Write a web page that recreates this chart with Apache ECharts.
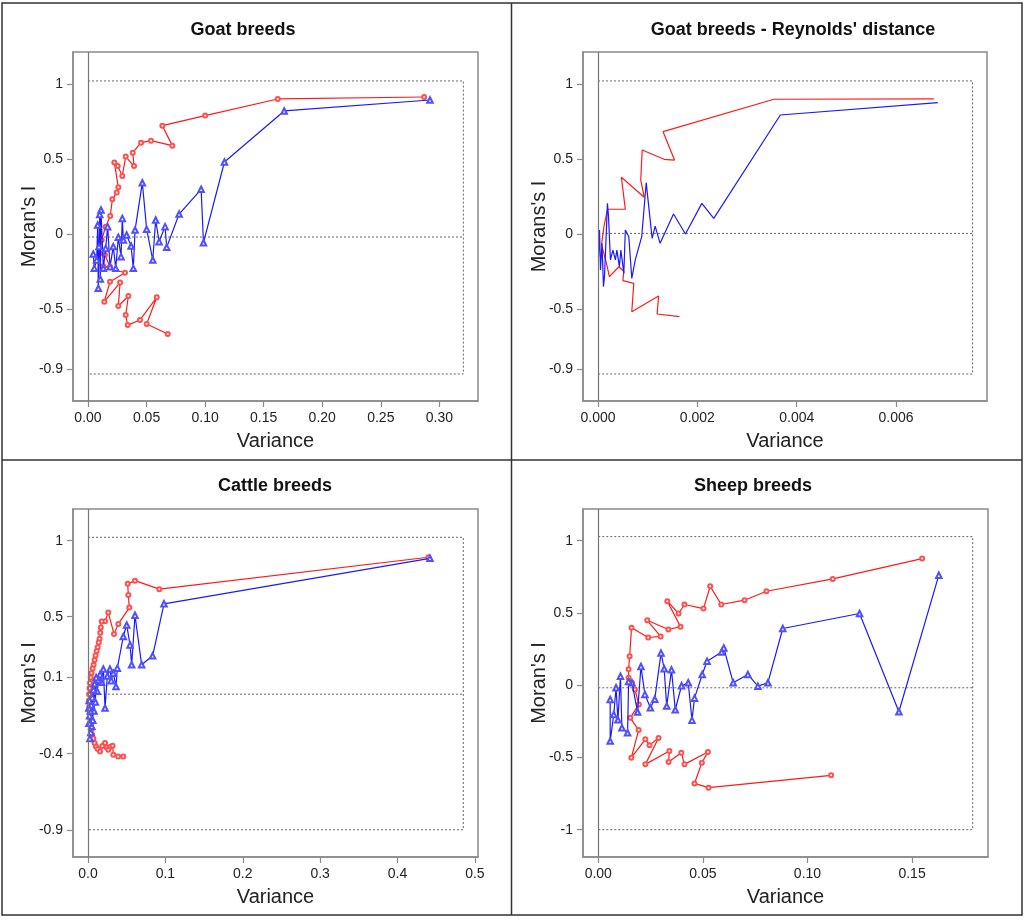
<!DOCTYPE html>
<html lang="en">
<head>
<meta charset="UTF-8">
<title>Moran's I correlograms</title>
<style>
  html, body { margin: 0; padding: 0; background: #fff; }
  #main { width: 1024px; height: 920px; }
</style>
</head>
<body>
<div id="main"></div>
<script src="https://cdn.jsdelivr.net/npm/echarts@6.0.0/dist/echarts.min.js"></script>
<script>
// ---- data: [variance, Moran's I] in path order ----
const goatRed = [
  [0.287, 0.913], [0.162, 0.900], [0.100, 0.789], [0.0635, 0.722], [0.072, 0.589],
  [0.0538, 0.622], [0.0453, 0.609], [0.0382, 0.542], [0.0393, 0.453], [0.0322, 0.516],
  [0.0293, 0.387], [0.0254, 0.453], [0.0225, 0.476], [0.0259, 0.311], [0.0245, 0.276],
  [0.0208, 0.231], [0.0190, 0.120], [0.0151, 0.049], [0.0117, -0.040], [0.0103, -0.129],
  [0.0145, -0.140], [0.0188, -0.218], [0.0130, -0.215], [0.0316, -0.258], [0.0188, -0.318],
  [0.0139, -0.451], [0.0274, -0.324], [0.0259, -0.480], [0.0345, -0.413], [0.0322, -0.540],
  [0.0339, -0.607], [0.0444, -0.573], [0.0587, -0.422], [0.0501, -0.600], [0.0681, -0.667]
];
const goatBlue = [
  [0.292, 0.893], [0.1675, 0.820], [0.1165, 0.480], [0.0986, -0.058], [0.0966, 0.298],
  [0.0778, 0.133], [0.0672, -0.089], [0.0658, 0.049], [0.0607, -0.051], [0.0578, 0.093],
  [0.0553, -0.173], [0.0501, 0.031], [0.0464, 0.342], [0.0402, 0.027], [0.0387, -0.229],
  [0.0368, -0.080], [0.0330, -0.007], [0.0302, -0.040], [0.0293, 0.104], [0.0282, -0.151],
  [0.0259, -0.022], [0.0237, -0.229], [0.0216, -0.084], [0.0188, -0.218], [0.0168, 0.049],
  [0.0151, -0.096], [0.0131, -0.229], [0.0111, 0.160], [0.0105, -0.300], [0.0100, 0.130],
  [0.0094, -0.084], [0.0088, -0.362], [0.0083, 0.060], [0.0074, -0.173], [0.0054, -0.229],
  [0.0045, -0.133]
];
const reynRed = [
  [0.00676, 0.900], [0.00354, 0.898], [0.00131, 0.682], [0.00154, 0.493], [0.00133, 0.498],
  [0.00089, 0.560], [0.00086, 0.360], [0.00093, 0.245], [0.00047, 0.378], [0.00055, 0.165],
  [0.00019, 0.165], [0.00012, 0.050], [0.00007, -0.069], [0.00017, -0.196], [0.00023, -0.284],
  [0.00042, -0.218], [0.00052, -0.250], [0.00050, -0.311], [0.00072, -0.329], [0.00068, -0.518],
  [0.00122, -0.413], [0.00119, -0.533], [0.00164, -0.551]
];
const reynBlue = [
  [0.00684, 0.876], [0.00367, 0.793], [0.00233, 0.104], [0.00209, 0.204], [0.00176, 0.000],
  [0.00152, 0.133], [0.00125, -0.062], [0.00115, 0.053], [0.00109, -0.029], [0.00097, 0.342],
  [0.00088, -0.018], [0.00075, -0.173], [0.00068, -0.296], [0.00062, -0.018], [0.00055, 0.027],
  [0.00052, -0.262], [0.00046, -0.107], [0.00043, -0.218], [0.00038, -0.107], [0.00035, -0.173],
  [0.00030, -0.107], [0.00025, -0.173], [0.00021, 0.127], [0.00019, 0.204], [0.00015, -0.129],
  [0.00013, -0.284], [0.00011, -0.351], [0.00008, -0.062], [0.00005, -0.240], [0.00003, 0.027],
  [0.00001, -0.151]
];
const cattleRed = [
  [0.440, 0.891], [0.0921, 0.681], [0.0607, 0.737], [0.0513, 0.716], [0.0521, 0.643],
  [0.0534, 0.560], [0.0392, 0.453], [0.0336, 0.387], [0.0262, 0.527], [0.0220, 0.470],
  [0.0177, 0.468], [0.0165, 0.430], [0.0158, 0.395], [0.0150, 0.355], [0.0138, 0.330],
  [0.0125, 0.300], [0.0112, 0.275], [0.0098, 0.245], [0.0085, 0.215], [0.0072, 0.185],
  [0.0060, 0.160], [0.0046, 0.130], [0.0035, 0.100], [0.0026, 0.065], [0.0019, 0.030],
  [0.0014, -0.010], [0.0013, -0.050], [0.0016, -0.090], [0.0022, -0.130], [0.0030, -0.170],
  [0.0040, -0.205], [0.0048, -0.240], [0.0055, -0.275], [0.0068, -0.300], [0.0085, -0.330],
  [0.0103, -0.353], [0.0125, -0.370], [0.0155, -0.385], [0.0185, -0.350], [0.0220, -0.330],
  [0.0240, -0.360], [0.0262, -0.374], [0.0290, -0.355], [0.0318, -0.348], [0.0327, -0.407],
  [0.0390, -0.418], [0.0456, -0.418]
];
const cattleBlue = [
  [0.4419, 0.884], [0.0982, 0.585], [0.0835, 0.243], [0.0693, 0.184], [0.0607, 0.510],
  [0.0564, 0.184], [0.0543, 0.315], [0.0500, 0.446], [0.0456, 0.370], [0.0379, 0.162],
  [0.0362, 0.041], [0.0327, 0.129], [0.0300, 0.080], [0.0284, 0.156], [0.0250, 0.110],
  [0.0220, -0.100], [0.0198, 0.156], [0.0175, 0.070], [0.0155, 0.120], [0.0133, 0.085],
  [0.0118, 0.010], [0.0105, 0.100], [0.0095, -0.060], [0.0085, 0.060], [0.0078, -0.120],
  [0.0070, 0.020], [0.0062, -0.180], [0.0055, -0.030], [0.0048, -0.220], [0.0042, -0.080],
  [0.0036, -0.260], [0.0030, -0.120], [0.0025, -0.300], [0.0020, -0.150], [0.0015, -0.050],
  [0.0012, -0.200], [0.0010, -0.100]
];
const sheepRed = [
  [0.1548, 0.876], [0.1121, 0.735], [0.0804, 0.650], [0.0699, 0.588], [0.0588, 0.558],
  [0.0535, 0.684], [0.0503, 0.530], [0.0412, 0.558], [0.0384, 0.496], [0.0330, 0.581],
  [0.0393, 0.405], [0.0335, 0.385], [0.0234, 0.449], [0.0298, 0.337], [0.0239, 0.330],
  [0.0159, 0.397], [0.0150, 0.200], [0.0145, 0.110], [0.0145, 0.051], [0.0161, 0.017],
  [0.0175, -0.030], [0.0194, -0.133], [0.0153, -0.226], [0.0193, -0.311], [0.0158, -0.502],
  [0.0225, -0.375], [0.0245, -0.415], [0.0288, -0.365], [0.0225, -0.548], [0.0340, -0.456],
  [0.0336, -0.532], [0.0397, -0.467], [0.0412, -0.548], [0.0524, -0.463], [0.0495, -0.537],
  [0.0460, -0.680], [0.0527, -0.709], [0.1113, -0.624]
];
const sheepBlue = [
  [0.1628, 0.761], [0.1437, -0.184], [0.1249, 0.496], [0.0882, 0.392], [0.0811, 0.017],
  [0.0763, -0.007], [0.0715, 0.074], [0.0645, 0.017], [0.0600, 0.258], [0.0590, 0.230],
  [0.0520, 0.166], [0.0497, 0.074], [0.0460, -0.090], [0.0448, -0.242], [0.0430, 0.017],
  [0.0398, -0.004], [0.0368, -0.170], [0.0350, 0.106], [0.0327, -0.145], [0.0315, 0.114],
  [0.0300, 0.222], [0.0270, -0.097], [0.0249, -0.156], [0.0223, -0.064], [0.0204, 0.129],
  [0.0188, -0.186], [0.0161, 0.017], [0.0145, 0.025], [0.0140, -0.329], [0.0113, -0.295],
  [0.0106, 0.062], [0.0094, -0.240], [0.0085, -0.018], [0.0074, -0.203], [0.0057, -0.387],
  [0.0057, -0.099]
];

// dotted reference frame: [top, middle, bottom, right edge]
const goatRef = [1.02, -0.02, -0.933, 0.3205];
const reynRef = [1.02, 0.004, -0.933, 0.00754];
const cattleRef = [1.022, -0.009, -0.9, 0.485];
const sheepRef = [1.028, -0.018, -1.0, 0.179];

// tick labels
const goatXTicks = [0, 0.05, 0.10, 0.15, 0.20, 0.25, 0.30];
const reynXTicks = [0, 0.002, 0.004, 0.006];
const cattleXTicks = [0, 0.1, 0.2, 0.3, 0.4, 0.5];
const sheepXTicks = [0, 0.05, 0.10, 0.15];
const goatYTicks = [1, 0.5, 0, -0.5, -0.9];
const cattleYTicks = [1, 0.5, 0.1, -0.4, -0.9];
const sheepYTicks = [1, 0.5, 0, -0.5, -1];

const titles = ['Goat breeds', "Goat breeds - Reynolds' distance", 'Cattle breeds', 'Sheep breeds'];
const yNames = ["Moran's I", "Morans's I", "Moran's I", "Moran's I"];

const FONT = '"Liberation Sans", Arial, sans-serif';
const GREY = '#8a8a8a';

const panels = [
  { red: goatRed, blue: goatBlue, ref: goatRef, xt: goatXTicks, yt: goatYTicks, dig: 2,
    x: [-0.0128, 0.333], y: [-1.113, 1.213], marks: true,
    grid: { left: 73, top: 52, width: 405, height: 349 }, tx: 243, ty: 21 },
  { red: reynRed, blue: reynBlue, ref: reynRef, xt: reynXTicks, yt: goatYTicks, dig: 3,
    x: [-0.000302, 0.00783], y: [-1.113, 1.213], marks: false,
    grid: { left: 583, top: 52, width: 404, height: 349 }, tx: 793, ty: 21 },
  { red: cattleRed, blue: cattleBlue, ref: cattleRef, xt: cattleXTicks, yt: cattleYTicks, dig: 1,
    x: [-0.0194, 0.504], y: [-1.079, 1.208], marks: true,
    grid: { left: 73, top: 509, width: 405, height: 348 }, tx: 275, ty: 477 },
  { red: sheepRed, blue: sheepBlue, ref: sheepRef, xt: sheepXTicks, yt: sheepYTicks, dig: 2,
    x: [-0.0073, 0.1863], y: [-1.189, 1.219], marks: true,
    grid: { left: 583, top: 509, width: 405, height: 348 }, tx: 753, ty: 477 }
];

const chart = echarts.init(document.getElementById('main'));

const grid = [], xAxis = [], yAxis = [], series = [], title = [];

panels.forEach((p, i) => {
  grid.push(Object.assign({ show: true, borderColor: GREY, borderWidth: 1.5, backgroundColor: '#fff' }, p.grid));

  title.push({
    text: titles[i], left: p.tx, top: p.ty, textAlign: 'center', padding: 0,
    textStyle: { fontFamily: FONT, fontSize: 18, fontWeight: 'bold', color: '#111' }
  });

  xAxis.push({
    type: 'value', gridIndex: i, min: p.x[0], max: p.x[1],
    name: 'Variance', nameLocation: 'middle', nameGap: 30, nameMoveOverlap: false,
    nameTextStyle: { fontFamily: FONT, fontSize: 20, color: '#222' },
    axisLine: { show: true, onZero: false, lineStyle: { color: GREY, width: 1.5 } },
    axisTick: { show: true, customValues: p.xt, length: 6, lineStyle: { color: GREY, width: 1.2 } },
    axisLabel: {
      customValues: p.xt, margin: 10, fontFamily: FONT, fontSize: 14, color: '#222',
      formatter: v => v.toFixed(p.dig)
    },
    splitLine: { show: false }
  });

  yAxis.push({
    type: 'value', gridIndex: i, min: p.y[0], max: p.y[1],
    name: yNames[i], nameLocation: 'middle', nameGap: 34, nameRotate: 90, nameMoveOverlap: false,
    nameTextStyle: { fontFamily: FONT, fontSize: 20, color: '#222' },
    axisLine: { show: true, onZero: false, lineStyle: { color: GREY, width: 1.5 } },
    axisTick: { show: true, customValues: p.yt, length: 6, lineStyle: { color: GREY, width: 1.2 } },
    axisLabel: {
      customValues: p.yt, margin: 10, fontFamily: FONT, fontSize: 14, color: '#222',
      formatter: v => String(v)
    },
    splitLine: { show: false }
  });

  const [top, mid, bottom, right] = p.ref;
  // dotted envelope frame, plus the solid vertical line at zero variance
  series.push({
    type: 'line', xAxisIndex: i, yAxisIndex: i, silent: true, symbol: 'none',
    data: [[0, top], [right, top], [right, bottom], [0, bottom]],
    lineStyle: { color: '#666', width: 1, type: [2, 2] },
    markLine: {
      silent: true, symbol: 'none', label: { show: false },
      lineStyle: { color: '#777', width: 1.2, type: 'solid' },
      data: [{ xAxis: 0 }]
    },
    z: 1
  });
  series.push({
    type: 'line', xAxisIndex: i, yAxisIndex: i, silent: true, symbol: 'none',
    data: [[0, mid], [right, mid]],
    lineStyle: { color: '#666', width: 1, type: [2, 2] }, z: 1
  });

  series.push({
    type: 'line', xAxisIndex: i, yAxisIndex: i, data: p.red,
    showSymbol: p.marks, symbol: 'emptyCircle', symbolSize: 4,
    lineStyle: { color: '#ff1a1a', width: 1.2 },
    itemStyle: { color: '#ff5050', borderColor: '#ff5050', borderWidth: 0.8 },
    z: 3
  });
  series.push({
    type: 'line', xAxisIndex: i, yAxisIndex: i, data: p.blue,
    showSymbol: p.marks, symbol: 'emptyTriangle', symbolSize: 5.5,
    lineStyle: { color: '#1a1aff', width: 1.2 },
    itemStyle: { color: '#5050ff', borderColor: '#5050ff', borderWidth: 0.8 },
    z: 4
  });
});

chart.setOption({
  animation: false,
  backgroundColor: '#fff',
  title: title,
  grid: grid,
  xAxis: xAxis,
  yAxis: yAxis,
  series: series,
  // outer panel frames
  graphic: [
    { type: 'rect', shape: { x: 2, y: 3, width: 1020, height: 912 }, style: { fill: 'none', stroke: '#333', lineWidth: 1.5 }, silent: true },
    { type: 'line', shape: { x1: 511.5, y1: 3, x2: 511.5, y2: 915 }, style: { stroke: '#333', lineWidth: 1.5 }, silent: true },
    { type: 'line', shape: { x1: 2, y1: 460, x2: 1022, y2: 460 }, style: { stroke: '#333', lineWidth: 1.5 }, silent: true }
  ]
});
</script>
</body>
</html>
